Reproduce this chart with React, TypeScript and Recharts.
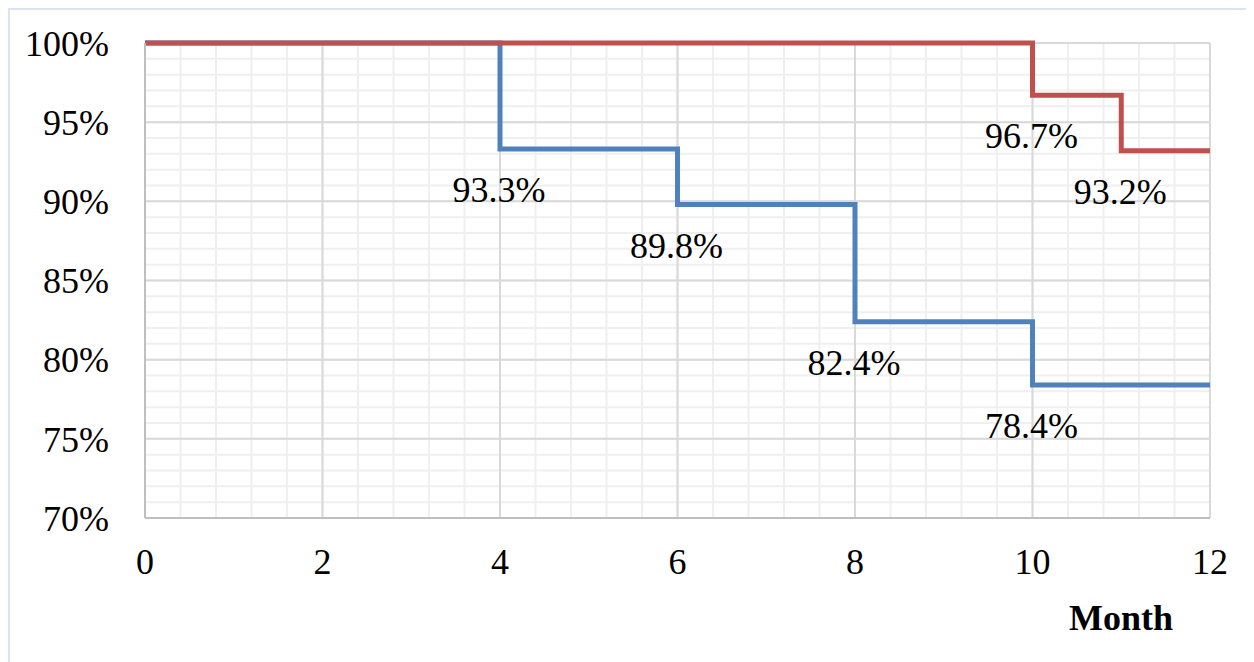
import React from "react";
import { LineChart, Line, XAxis, YAxis, CartesianGrid, LabelList } from "recharts";

const blueMonths = [0, 4, 6, 8, 10, 12];
const blueValues = [100, 93.3, 89.8, 82.4, 78.4, 78.4];
const redMonths = [0, 10, 11, 12];
const redValues = [100, 96.7, 93.2, 93.2];

const xTicks = [0, 2, 4, 6, 8, 10, 12];
const yTicks = [70, 75, 80, 85, 90, 95, 100];
const minorXTicks = [0, 0.4, 0.8, 1.2, 1.6, 2, 2.4, 2.8, 3.2, 3.6, 4, 4.4, 4.8, 5.2, 5.6, 6, 6.4, 6.8, 7.2, 7.6, 8, 8.4, 8.8, 9.2, 9.6, 10, 10.4, 10.8, 11.2, 11.6, 12];
const minorYTicks = [70, 71, 72, 73, 74, 75, 76, 77, 78, 79, 80, 81, 82, 83, 84, 85, 86, 87, 88, 89, 90, 91, 92, 93, 94, 95, 96, 97, 98, 99, 100];
const xTitle = "Month";

const blueData = blueMonths.map((m, i) => ({ x: m, y: blueValues[i], lab: i > 0 && i < blueMonths.length - 1 ? blueValues[i].toFixed(1) + "%" : "" }));
const redData = redMonths.map((m, i) => ({ x: m, y: redValues[i], lab: i > 0 && i < redMonths.length - 1 ? redValues[i].toFixed(1) + "%" : "" }));

const FONT = '"Liberation Serif", "Times New Roman", serif';
const FS = 36;
const X_DOMAIN: [number, number] = [0, 12];
const Y_DOMAIN: [number, number] = [70, 100];

const renderLab = (props: any) => {
  const { x, y, value } = props;
  if (!value) return null;
  return (
    <text x={x - 1} y={y + 53} textAnchor="middle" fontFamily={FONT} fontSize={FS} fill="#000">
      {value}
    </text>
  );
};

const MonthLabel = (props: any) => {
  const vb = props.viewBox || {};
  return (
    <text x={vb.x + vb.width - 89} y={vb.y + 112} textAnchor="middle" fontFamily={FONT} fontSize={FS} fontWeight="bold" fill="#000">
      {xTitle}
    </text>
  );
};

const vGen = (args: any) => {
  const { offset, xAxis } = args;
  if (xAxis && typeof xAxis.scale === "function") return minorXTicks.map((v) => xAxis.scale(v));
  return minorXTicks.map((v) => offset.left + (offset.width * (v - X_DOMAIN[0])) / (X_DOMAIN[1] - X_DOMAIN[0]));
};
const hGen = (args: any) => {
  const { offset, yAxis } = args;
  if (yAxis && typeof yAxis.scale === "function") return minorYTicks.map((v) => yAxis.scale(v));
  return minorYTicks.map((v) => offset.top + (offset.height * (Y_DOMAIN[1] - v)) / (Y_DOMAIN[1] - Y_DOMAIN[0]));
};

export default function App() {
  return (
    <div style={{ position: "relative", width: 1246, height: 654, overflow: "hidden" }}>
      <div
        style={{
          position: "absolute",
          left: 0,
          top: 0,
          width: 1260,
          height: 670,
          borderTop: "2px solid #dae3f3",
          borderLeft: "2px solid #dae3f3",
          pointerEvents: "none",
        }}
      />
      <LineChart width={1246} height={654} margin={{ top: 35, right: 44, bottom: 0, left: 0 }}>
        <CartesianGrid stroke="#efefef" strokeWidth={2} verticalCoordinatesGenerator={vGen} horizontalCoordinatesGenerator={hGen} />
        <XAxis
          type="number"
          dataKey="x"
          domain={X_DOMAIN}
          ticks={xTicks}
          height={144}
          tickSize={0}
          tickMargin={30}
          axisLine={{ stroke: "#bfbfbf", strokeWidth: 2 }}
          tick={{ fontFamily: FONT, fontSize: FS, fill: "#000" }}
          label={<MonthLabel />}
        />
        <YAxis
          type="number"
          domain={Y_DOMAIN}
          ticks={yTicks}
          width={137}
          tickSize={0}
          tickMargin={36}
          axisLine={{ stroke: "#bfbfbf", strokeWidth: 2 }}
          tick={{ fontFamily: FONT, fontSize: FS, fill: "#000" }}
          tickFormatter={(v: number) => v + "%"}
        />
        <CartesianGrid stroke="#d9d9d9" strokeWidth={2} />
        <Line data={blueData} dataKey="y" type="stepAfter" stroke="#4f81bd" strokeWidth={5} dot={false} isAnimationActive={false}>
          <LabelList dataKey="lab" content={renderLab} />
        </Line>
        <Line data={redData} dataKey="y" type="stepAfter" stroke="#c0504d" strokeWidth={5} dot={false} isAnimationActive={false}>
          <LabelList dataKey="lab" content={renderLab} />
        </Line>
      </LineChart>
    </div>
  );
}
